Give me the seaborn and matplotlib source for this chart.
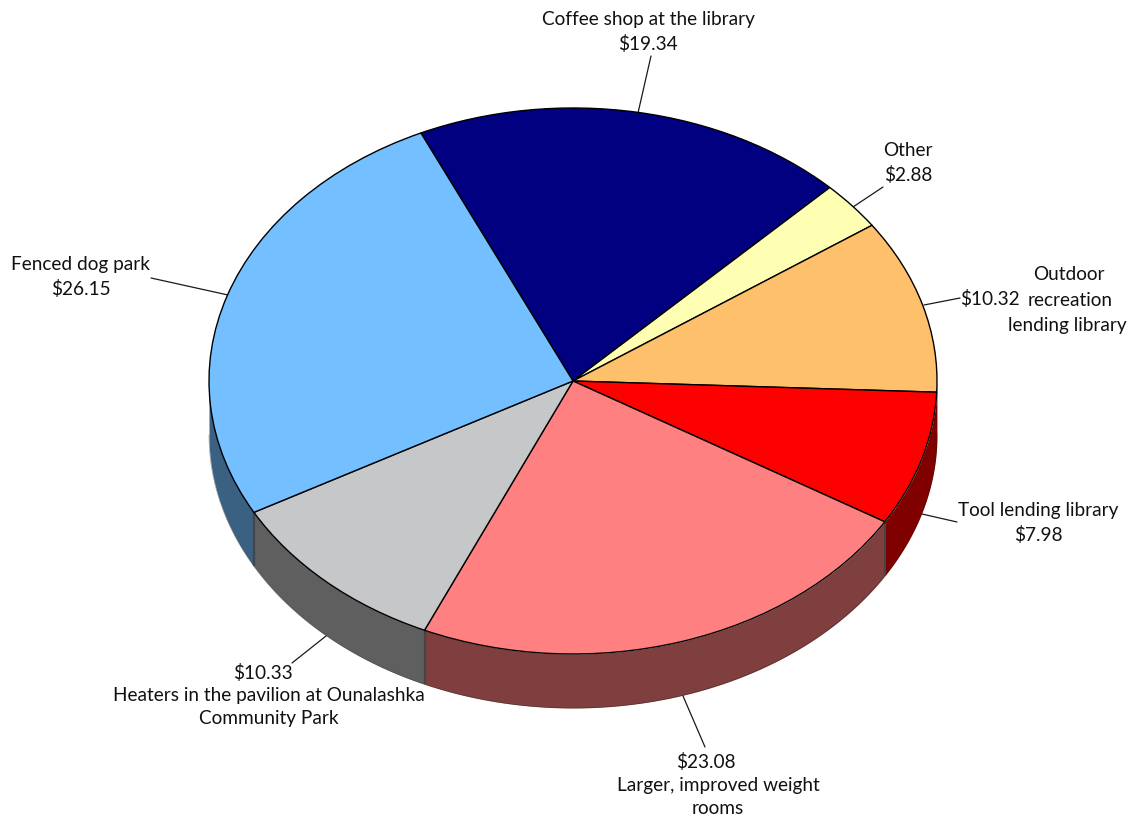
import numpy as np
import matplotlib
matplotlib.use("Agg")
import matplotlib.pyplot as plt
import seaborn as sns

categories = ["Coffee shop at the library", "Other", "Outdoor recreation lending library",
              "Tool lending library", "Larger, improved weight rooms",
              "Heaters in the pavilion at Ounalashka Community Park", "Fenced dog park"]
values = [19.34, 2.88, 10.32, 7.98, 23.08, 10.33, 26.15]
top_colors = ["#000080", "#FFFFB3", "#FFC06C", "#FF0000", "#FF8080", "#C6C7C9", "#73BFFF"]
side_colors = ["#000040", "#808059", "#5a1208", "#800000", "#7F3F3F", "#5F5F5F", "#3A6082"]
labels = ["Coffee shop at the library\n$19.34", "Other\n$2.88",
          "Tool lending library\n$7.98", "$23.08", "Larger, improved weight\nrooms",
          "$10.33", "Heaters in the pavilion at Ounalashka\nCommunity Park", "Fenced dog park\n$26.15",
          "$10.32", "Outdoor", "recreation", "lending library"]
label_px = [(648, 32), (908, 163), (1038, 523), (706, 762), (718, 797), (263, 673), (269, 707), (81, 277),
            (990, 299), (1069, 275), (1070, 300), (1067, 325)]
leaders = [((638, 113), (651, 56)), ((853, 207), (883, 187)), ((924, 305), (960, 298)),
           ((922, 514), (957, 522)), ((683, 696), (705, 747)), ((326, 636), (292, 663)),
           ((228, 295), (151, 278))]

W, H = 1131, 819
CX, CY, RX, RY, DEPTH = 573, 381, 364, 273, 54
START = 114.7

sns.set_theme(style="white")
plt.rcParams["font.family"] = ["Lato", "DejaVu Sans"]
fig = plt.figure(figsize=(W / 100, H / 100), dpi=100, facecolor="white")
ax = fig.add_axes([0, 0, 1, 1])


def to_data(p):
    return (p[0] - CX) / RX, (CY - p[1]) / RY


palette = sns.color_palette(top_colors)
ax.pie(values, colors=palette, startangle=START, counterclock=False, radius=1,
       wedgeprops=dict(edgecolor="black", linewidth=1.0, zorder=5))
ax.set_aspect("auto")
ax.set_xlim(-CX / RX, (W - CX) / RX)
ax.set_ylim((CY - H) / RY, CY / RY)

# Extruded rim: the front half of each slice, lowered by the pie's depth
d = DEPTH / RY
bounds = START - np.cumsum([0] + values) / np.sum(values) * 360
for a0, a1, col in zip(bounds[:-1], bounds[1:], side_colors):
    hi = min(a0, 0)
    lo = max(a1, -180)
    if hi <= lo:
        continue
    th = np.radians(np.linspace(lo, hi, 120))
    ax.fill_between(np.cos(th), np.sin(th), np.sin(th) - d, color=col, linewidth=0, zorder=2)
    ax.plot(np.cos(th), np.sin(th) - d, color="#202020", lw=0.4, alpha=0.5, zorder=3)
    for a in (lo, hi):
        if a == -180 or a > -10:
            continue
        x, y = np.cos(np.radians(a)), np.sin(np.radians(a))
        ax.plot([x, x], [y, y - d], color="#454545", lw=1.5, zorder=3, solid_capstyle="butt")

for p0, p1 in leaders:
    a, b = to_data(p0), to_data(p1)
    ax.plot([a[0], b[0]], [a[1], b[1]], color="#1a1a1a", lw=0.9, zorder=4)

for txt, p in zip(labels, label_px):
    x, y = to_data(p)
    ax.text(x, y, txt, ha="center", va="center", fontsize=13.7, color="#111111",
            linespacing=1.42, zorder=6)

fig.savefig("out.png", dpi=100, facecolor="white")
